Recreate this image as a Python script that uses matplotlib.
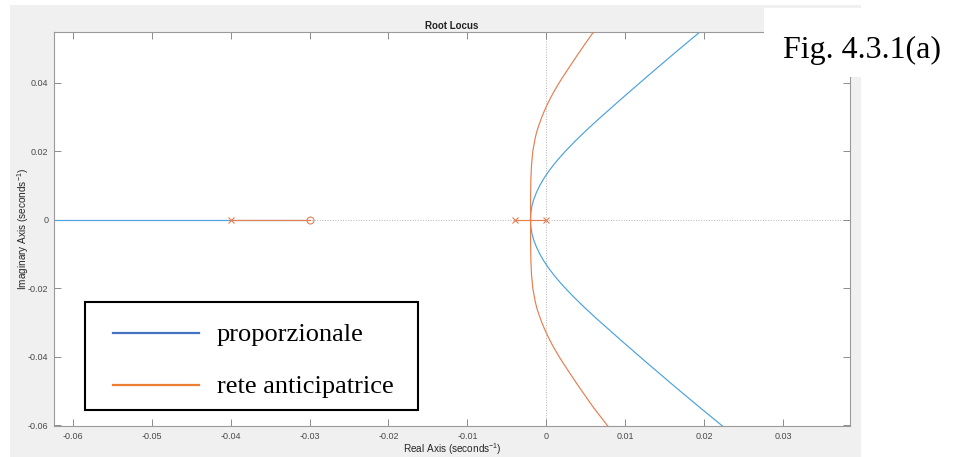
import matplotlib
matplotlib.use('Agg')
import numpy as np
import matplotlib.pyplot as plt
from matplotlib.patches import Rectangle
from matplotlib.lines import Line2D

plt.rcParams['font.family'] = ['Liberation Sans', 'DejaVu Sans']
plt.rcParams['mathtext.fontset'] = 'custom'
plt.rcParams['mathtext.rm'] = 'Liberation Sans'
plt.rcParams['mathtext.it'] = 'Liberation Sans:italic'

W, H = 954, 457

# open-loop singularities (lead network case)
lead_poles = [-0.04, -0.004, 0.0]
lead_zeros = [-0.03]

# real-axis branches
prop_real_re = [-0.1, -0.03]
lead_real_re_left = [-0.04, -0.03]
lead_real_re_right = [-0.004, 0.0]

# complex branches (upper half, the lower one is the conjugate)
prop_im = [0.0, 0.002, 0.004, 0.006, 0.008, 0.010, 0.012, 0.014, 0.016, 0.018,
           0.020, 0.023, 0.026, 0.029, 0.035, 0.042, 0.049, 0.0549, 0.0605]
prop_re = [-0.00200, -0.00196, -0.00182, -0.00158, -0.00124, -0.00082, -0.00032,
           0.00026, 0.00092, 0.00164, 0.00242, 0.00368, 0.00503, 0.00644,
           0.00938, 0.01288, 0.01645, 0.01952, 0.02249]

lead_im = [0.0, 0.004, 0.008, 0.012, 0.016, 0.020, 0.024, 0.026, 0.028, 0.030,
           0.032, 0.034, 0.036, 0.038, 0.040, 0.042, 0.045, 0.048, 0.051,
           0.0549, 0.0605]
lead_re = [-0.00199, -0.00199, -0.00198, -0.00195, -0.00187, -0.00171, -0.00139,
           -0.00117, -0.00088, -0.00056, -0.00020, 0.00020, 0.00064, 0.00112,
           0.00164, 0.00219, 0.00305, 0.00392, 0.00482, 0.00601, 0.00790]

xticks = [-0.06, -0.05, -0.04, -0.03, -0.02, -0.01, 0.0, 0.01, 0.02, 0.03]
xtick_labels = ['-0.06', '-0.05', '-0.04', '-0.03', '-0.02', '-0.01', '0', '0.01', '0.02', '0.03']
yticks = [-0.06, -0.04, -0.02, 0.0, 0.02, 0.04]
ytick_labels = ['-0.06', '-0.04', '-0.02', '0', '0.02', '0.04']

legend_labels = ['proporzionale', 'rete anticipatrice']

BLUE = '#4aa2e0'
ORANGE = '#e67e50'


def fx(px):
    return px / W


def fy(py):
    return 1 - py / H


fig = plt.figure(figsize=(W / 100, H / 100), dpi=100, facecolor='white')
fig.add_artist(Rectangle((fx(10), 0), fx(861) - fx(10), fy(5), transform=fig.transFigure,
                         facecolor='#f0f0f0', edgecolor='none', zorder=-1))

ax = fig.add_axes([fx(54), fy(426), fx(850) - fx(54), fy(32) - fy(426)])
ax.set_xlim(-0.0624, 0.0385)
ax.set_ylim(-0.0602, 0.0548)

ax.axhline(0, color='#b4b4b4', ls=':', lw=0.7, zorder=1)
ax.axvline(0, color='#b4b4b4', ls=':', lw=0.7, zorder=1)

lw = 0.85
p_re, p_im = np.array(prop_re), np.array(prop_im)
l_re, l_im = np.array(lead_re), np.array(lead_im)

ax.plot(prop_real_re, [0, 0], color=BLUE, lw=lw, zorder=2)
ax.plot(p_re, p_im, color=BLUE, lw=lw, zorder=2)
ax.plot(p_re, -p_im, color=BLUE, lw=lw, zorder=2)

ax.plot(lead_real_re_left, [0, 0], color=ORANGE, lw=lw, zorder=3)
ax.plot(lead_real_re_right, [0, 0], color=ORANGE, lw=lw, zorder=3)
ax.plot(l_re, l_im, color=ORANGE, lw=lw, zorder=3)
ax.plot(l_re, -l_im, color=ORANGE, lw=lw, zorder=3)

ax.plot(lead_poles, [0] * len(lead_poles), ls='none', marker='x', ms=4, mew=0.8,
        color=ORANGE, zorder=4)
ax.plot(lead_zeros, [0] * len(lead_zeros), ls='none', marker='o', ms=5, mew=0.8,
        mfc='none', mec=ORANGE, zorder=4)

ax.set_xticks(xticks)
ax.set_xticklabels(xtick_labels)
ax.set_yticks(yticks)
ax.set_yticklabels(ytick_labels)
ax.tick_params(direction='in', length=5, width=0.6, color='#7a7a7a', labelcolor='#4a4a4a',
               labelsize=6.5, pad=4, top=True, right=True)
for s in ax.spines.values():
    s.set_color('#9a9a9a')
    s.set_linewidth(0.8)

ax.set_title('Root Locus', fontsize=7, fontweight='bold', pad=2.5, color='#222222')
ax.set_xlabel('Real Axis (seconds$^{-1}$)', fontsize=7.2, color='#262626')
ax.set_ylabel('Imaginary Axis (seconds$^{-1}$)', fontsize=7.2, color='#262626')
ax.xaxis.set_label_coords(0.5, -(441 - 426) / 394)
ax.yaxis.set_label_coords(-(54 - 31) / 796, 0.5)

# hand-made legend box
fig.add_artist(Rectangle((fx(85), fy(410)), fx(418) - fx(85), fy(302) - fy(410),
                         transform=fig.transFigure, facecolor='white', edgecolor='black',
                         lw=1.5, zorder=5))
for col, lab, ly in zip(['#4472C4', '#ED7D31'], legend_labels, [332.5, 385]):
    fig.add_artist(Line2D([fx(113), fx(199)], [fy(ly), fy(ly)], transform=fig.transFigure,
                          color=col, lw=1.6, zorder=6))
    fig.text(fx(217), fy(ly + 8), lab, family='Liberation Serif', fontsize=19,
             va='baseline', ha='left', color='black', zorder=6)

# figure caption
fig.add_artist(Rectangle((fx(764), fy(77)), 1 - fx(764), fy(8) - fy(77),
                         transform=fig.transFigure, facecolor='white', edgecolor='none',
                         zorder=5))
fig.text(fx(783), fy(58), 'Fig. 4.3.1(a)', family='Liberation Serif', fontsize=23,
         va='baseline', ha='left', color='black', zorder=6)

fig.savefig('out.png', dpi=100, facecolor=fig.get_facecolor())
